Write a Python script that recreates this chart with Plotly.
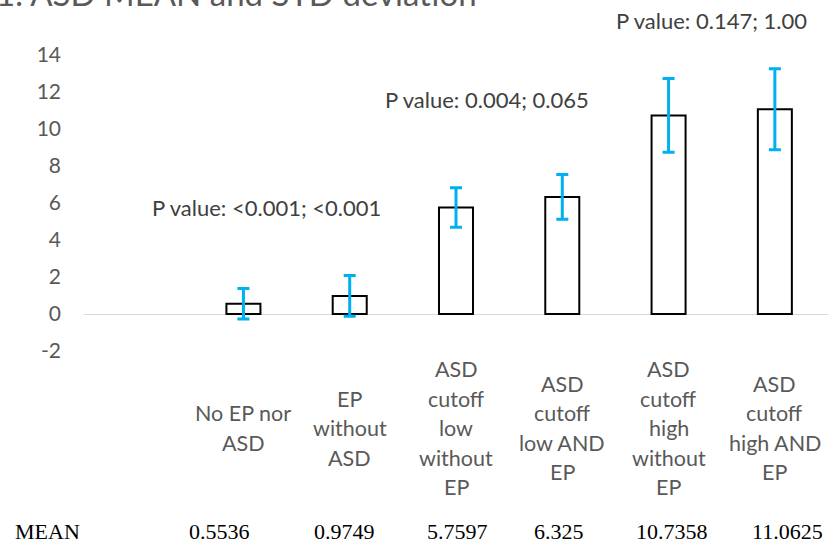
import plotly.graph_objects as go

# Group labels (one list of lines per bar), means and standard deviations
groups = [
    ["No EP nor", "ASD"],
    ["EP", "without", "ASD"],
    ["ASD", "cutoff", "low", "without", "EP"],
    ["ASD", "cutoff", "low AND", "EP"],
    ["ASD", "cutoff", "high", "without", "EP"],
    ["ASD", "cutoff", "high AND", "EP"],
]
means = [0.5536, 0.9749, 5.7597, 6.325, 10.7358, 11.0625]
mean_labels = ["0.5536", "0.9749", "5.7597", "6.325", "10.7358", "11.0625"]
std_dev = [0.83, 1.10, 1.07, 1.21, 1.99, 2.19]
positions = [1, 2, 3, 4, 5, 6]

y_ticks = [-2, 0, 2, 4, 6, 8, 10, 12, 14]
y_tick_text = ["-2", "0", "2", "4", "6", "8", "10", "12", "14"]

p_values = ["P value: <0.001; <0.001", "P value: 0.004; 0.065", "P value: 0.147; 1.00"]

W, H = 828, 545
L, R, T, B = 84, 0, 55, 194
PW, PH = W - L - R, H - T - B

def px(x):
    return (x - L) / PW

def py(y):
    return (H - B - y) / PH

GRAY = "#595959"
SANS = "Lato, Carlito, Calibri, sans-serif"

fig = go.Figure()
fig.add_trace(go.Bar(
    x=positions,
    y=means,
    width=0.32,
    marker=dict(color="white", line=dict(color="black", width=2)),
    error_y=dict(type="data", array=std_dev, visible=True,
                 color="#00B0F0", thickness=3, width=6),
    hoverinfo="skip",
))

annotations = []

# Title
annotations.append(dict(
    text="1. ASD MEAN and STD deviation", xref="paper", yref="paper",
    x=px(-6), y=py(15), xanchor="left", yanchor="bottom", showarrow=False,
    font=dict(family=SANS, size=33, color=GRAY),
))

# P-value notes
for text, cx, cy in zip(p_values, [266, 487, 711], [207, 100, 21]):
    annotations.append(dict(
        text=text, xref="paper", yref="paper", x=px(cx), y=py(cy),
        xanchor="center", yanchor="middle", showarrow=False,
        font=dict(family=SANS, size=22, color="#404040"),
    ))

# Category labels, vertically centred under each bar
line_gap = 29.5
centre_y = 428
for pos, lines in zip(positions, groups):
    n = len(lines)
    for i, line in enumerate(lines):
        yy = centre_y + (i - (n - 1) / 2) * line_gap
        annotations.append(dict(
            text=line, xref="x", yref="paper", x=pos, y=py(yy),
            xanchor="center", yanchor="middle", showarrow=False,
            font=dict(family=SANS, size=21.5, color=GRAY),
        ))

# MEAN row
SERIF = "Liberation Serif, Times New Roman, serif"
row_y = 531
annotations.append(dict(
    text="MEAN", xref="paper", yref="paper", x=px(13), y=py(row_y),
    xanchor="left", yanchor="middle", showarrow=False,
    font=dict(family=SERIF, size=22, color="black"),
))
for lbl, cx in zip(mean_labels, [219, 344, 457, 559, 672, 787]):
    annotations.append(dict(
        text=lbl, xref="paper", yref="paper", x=px(cx), y=py(row_y),
        xanchor="center", yanchor="middle", showarrow=False,
        font=dict(family=SERIF, size=22, color="black"),
    ))

fig.update_layout(
    width=W, height=H,
    margin=dict(l=L, r=R, t=T, b=B, pad=0),
    paper_bgcolor="white", plot_bgcolor="white",
    showlegend=False,
    annotations=annotations,
    xaxis=dict(range=[-0.5, 6.5], showticklabels=False, showgrid=False,
               zeroline=False, showline=False, ticks=""),
    yaxis=dict(range=[-2, 14], tickmode="array", tickvals=y_ticks,
               ticktext=y_tick_text, showgrid=False,
               zeroline=True, zerolinecolor="#D9D9D9", zerolinewidth=1,
               showline=False, ticks="", ticklabelstandoff=22,
               tickfont=dict(family=SANS, size=21, color=GRAY)),
)

fig.write_html("out.html")
